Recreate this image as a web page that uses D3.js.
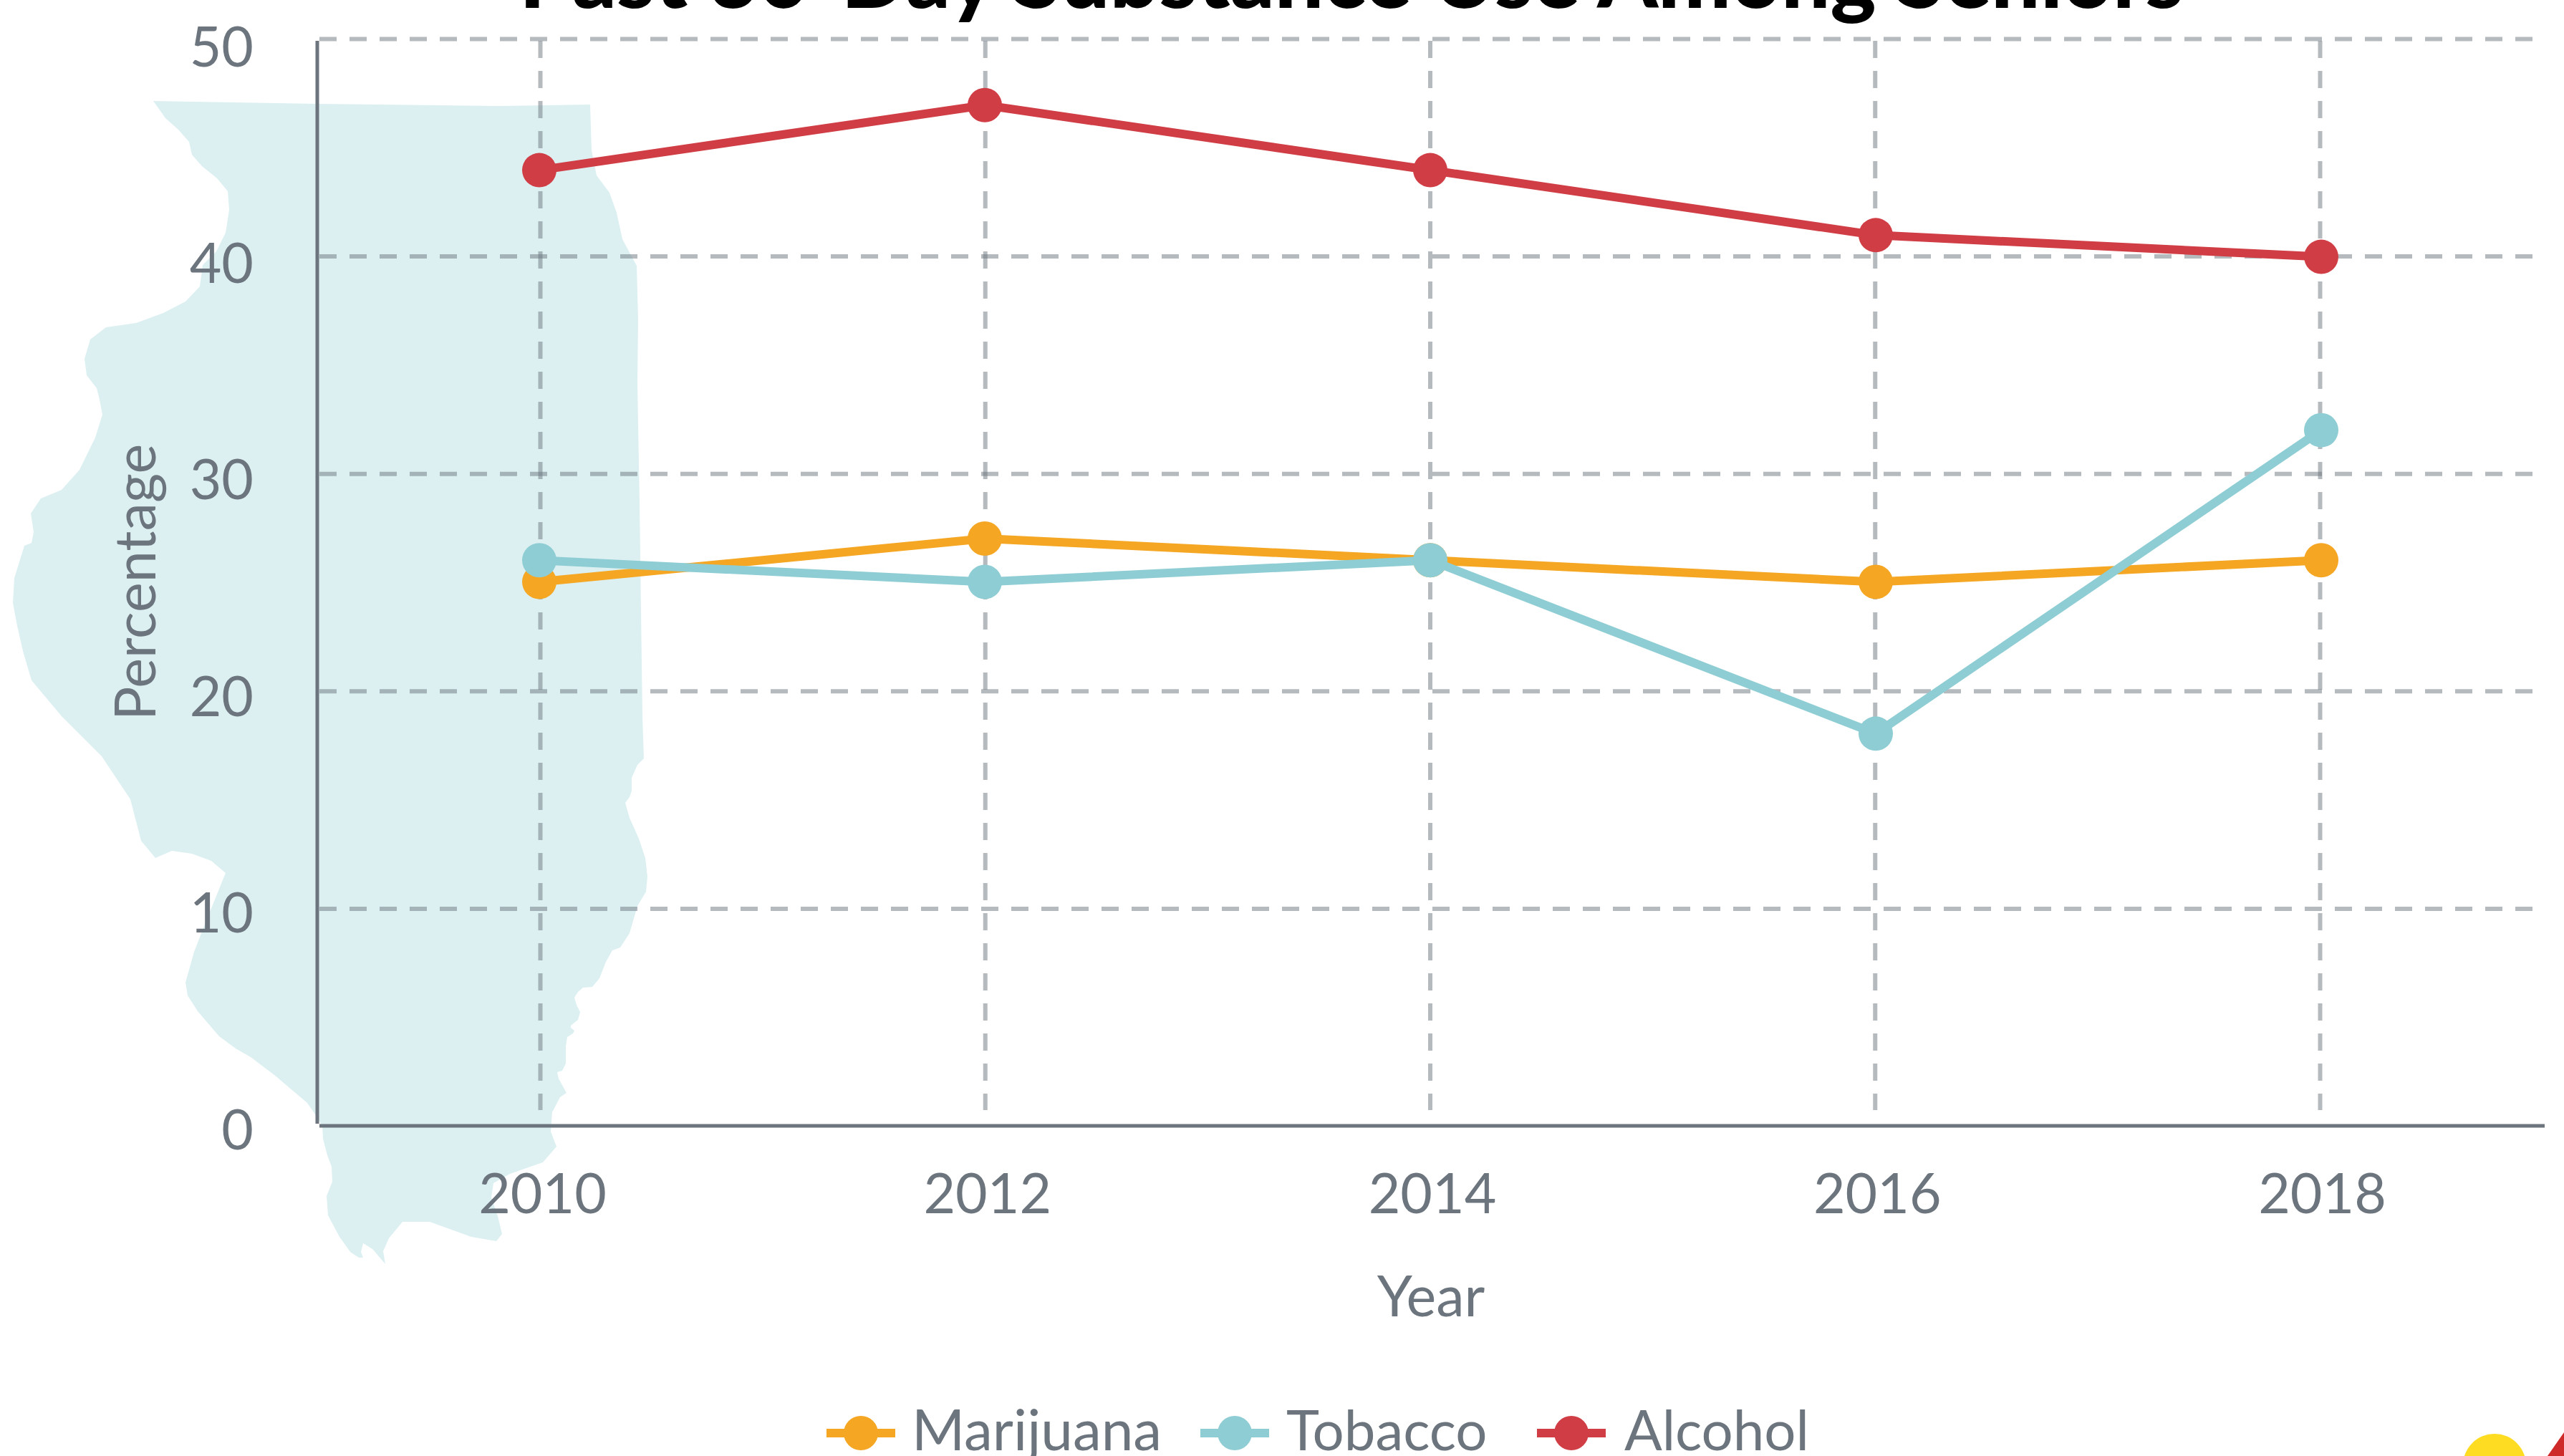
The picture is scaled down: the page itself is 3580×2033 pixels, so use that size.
<!DOCTYPE html>
<html>
<head>
<meta charset="utf-8">
<script src="https://cdn.jsdelivr.net/npm/d3@7"></script>
<style>
  html, body { margin: 0; padding: 0; background: #fff; overflow: hidden; }
  svg { display: block; font-family: Lato, sans-serif; }
  text { fill: #6c757d; }
</style>
</head>
<body>
<div id="chart"></div>
<script>
const years = [2010, 2012, 2014, 2016, 2018];
const yTicks = [0, 10, 20, 30, 40, 50];
const marijuana = [25, 27, 26, 25, 26];
const tobacco = [26, 25, 26, 18, 32];
const alcohol = [44, 47, 44, 41, 40];
const seriesNames = ["Marijuana", "Tobacco", "Alcohol"];
const seriesColors = ["#f5a623", "#8ecdd4", "#d03d45"];
const seriesValues = [marijuana, tobacco, alcohol];

// backdrop shape of the state, traced by hand (decoration, not data)
const stateOutline = "M214,141 L444,145 L696,148 L824,146 L826,210 L833,245 L851,269 L861,297 L869,334 L889,371 L891,446 L890,536 L893,702 L897,1000 L899,1059 L890,1068 L882,1086 L882,1104 L879,1113 L873,1121 L879,1142 L892,1171 L901,1198 L904,1224 L902,1245 L890,1265 L879,1303 L866,1323 L855,1327 L846,1343 L837,1366 L827,1378 L814,1379 L807,1385 L802,1393 L805,1403 L810,1413 L807,1424 L797,1432 L797,1435 L802,1439 L800,1443 L792,1448 L790,1461 L790,1485 L785,1495 L778,1497 L780,1506 L791,1526 L782,1532 L771,1553 L769,1580 L777,1601 L758,1623 L712,1639 L689,1652 L686,1672 L695,1698 L701,1723 L693,1733 L658,1727 L600,1706 L562,1706 L543,1729 L535,1747 L538,1765 L520,1744 L507,1736 L504,1748 L507,1756 L501,1756 L489,1748 L474,1727 L458,1697 L456,1670 L464,1650 L463,1629 L457,1613 L451,1590 L450,1572 L438,1553 L429,1540 L383,1501 L350,1476 L329,1464 L306,1447 L276,1412 L262,1390 L259,1372 L271,1329 L289,1283 L315,1219 L295,1202 L268,1192 L240,1188 L217,1198 L197,1174 L182,1116 L142,1056 L86,1000 L44,950 L32,909 L24,874 L18,842 L20,807 L34,762 L44,758 L47,743 L43,717 L57,696 L86,684 L111,656 L133,611 L143,579 L139,558 L135,542 L121,524 L118,501 L126,474 L148,457 L190,451 L228,437 L259,421 L279,400 L283,370 L302,351 L315,325 L320,293 L318,267 L303,249 L282,232 L268,216 L264,198 L249,181 L231,165 Z";

const width = 3580, height = 2033;
const fontSize = 77, labelSize = 79;

const svg = d3.select("#chart").append("svg")
  .attr("width", width)
  .attr("height", height);

// the marks, grid and tick labels do not quite share a frame in the original
var x = d3.scalePoint().domain(years).range([753, 3241]);
var y = d3.scaleLinear().domain([0, 50]).range([1569, 56]);
var xGrid = d3.scalePoint().domain(years).range([754, 3239]);
var yGrid = d3.scaleLinear().domain([0, 50]).range([1572, 54]);
var yLabel = d3.scaleLinear().domain([0, 50]).range([1604, 92]);

svg.append("path").attr("d", stateOutline).attr("fill", "#dcf0f2");

//--------------- GRID --------------------
const gridY = svg.append("g").attr("transform", "translate(446,0)")
  .call(d3.axisLeft(yGrid).tickValues(yTicks.filter(d => d > 0)).tickSize(-3107).tickFormat(""));
gridY.select(".domain").remove();

const gridX = svg.append("g").attr("transform", "translate(0,57)")
  .call(d3.axisBottom(xGrid).tickSize(1493).tickFormat(""));
gridX.select(".domain").remove();

svg.selectAll("g.tick line")
  .attr("stroke", "#6c757d").attr("stroke-opacity", 0.5)
  .attr("stroke-width", 6).attr("stroke-dasharray", "24 18");

//--------------- AXES --------------------
svg.append("line").attr("x1", 443).attr("x2", 443).attr("y1", 57).attr("y2", 1569)
  .attr("stroke", "#6c757d").attr("stroke-width", 5);
svg.append("line").attr("x1", 446).attr("x2", 3553).attr("y1", 1572).attr("y2", 1572)
  .attr("stroke", "#6c757d").attr("stroke-width", 5);

const yAxis = svg.append("g").attr("transform", "translate(354,0)")
  .call(d3.axisLeft(yLabel).tickValues(yTicks).tickSize(0).tickPadding(0));
yAxis.select(".domain").remove();
yAxis.selectAll("text")
  .attr("dy", 0).attr("font-size", fontSize).attr("font-family", "Lato").style("fill", "#6c757d");

const xAxis = svg.append("g").attr("transform", "translate(3,1694)")
  .call(d3.axisBottom(xGrid).tickSize(0).tickPadding(0).tickFormat(d3.format("d")));
xAxis.select(".domain").remove();
xAxis.selectAll("text")
  .attr("y", 0).attr("dy", 0).attr("font-size", fontSize).attr("font-family", "Lato").style("fill", "#6c757d");

svg.append("text").attr("x", 1998).attr("y", 1838).attr("text-anchor", "middle")
  .attr("font-size", labelSize).text("Year");
svg.append("text").attr("transform", "translate(217,813) rotate(-90)").attr("text-anchor", "middle")
  .attr("font-size", labelSize).text("Percentage");

svg.append("text").attr("x", 1887).attr("y", 11).attr("text-anchor", "middle")
  .attr("font-size", 121).attr("font-weight", 900).style("fill", "#000")
  .text("Past 30-Day Substance Use Among Seniors");

//--------------- SERIES --------------------
var line = d3.line().x((d, i) => x(years[i])).y(d => y(d));

seriesValues.forEach(function(values, s) {
  svg.append("path").datum(values)
    .attr("d", line).attr("fill", "none")
    .attr("stroke", seriesColors[s]).attr("stroke-width", 12);
  svg.append("g").selectAll("circle").data(values).join("circle")
    .attr("cx", (d, i) => x(years[i]))
    .attr("cy", d => y(d))
    .attr("r", 24)
    .attr("fill", seriesColors[s]);
});

//--------------- LEGEND --------------------
const legendMarkX = [1202, 1724, 2194];
const legendTextX = [1273, 1796, 2268];
const legendSizes = [80, 78, 78];
seriesNames.forEach(function(name, s) {
  const g = svg.append("g");
  g.append("line").attr("x1", legendMarkX[s] - 48).attr("x2", legendMarkX[s] + 48)
    .attr("y1", 2001).attr("y2", 2001)
    .attr("stroke", seriesColors[s]).attr("stroke-width", 12);
  g.append("circle").attr("cx", legendMarkX[s]).attr("cy", 2001).attr("r", 24)
    .attr("fill", seriesColors[s]);
  g.append("text").attr("x", legendTextX[s]).attr("y", 2025)
    .attr("font-size", legendSizes[s]).text(name);
});

// corner logo, cut off by the page edge
svg.append("ellipse").attr("cx", 3483).attr("cy", 2046).attr("rx", 44).attr("ry", 44).attr("fill", "#fddc22");
svg.append("path").attr("d", "M3557,2033 L3580,2000 L3580,2033 Z").attr("fill", "#cf2a2a");
</script>
</body>
</html>
